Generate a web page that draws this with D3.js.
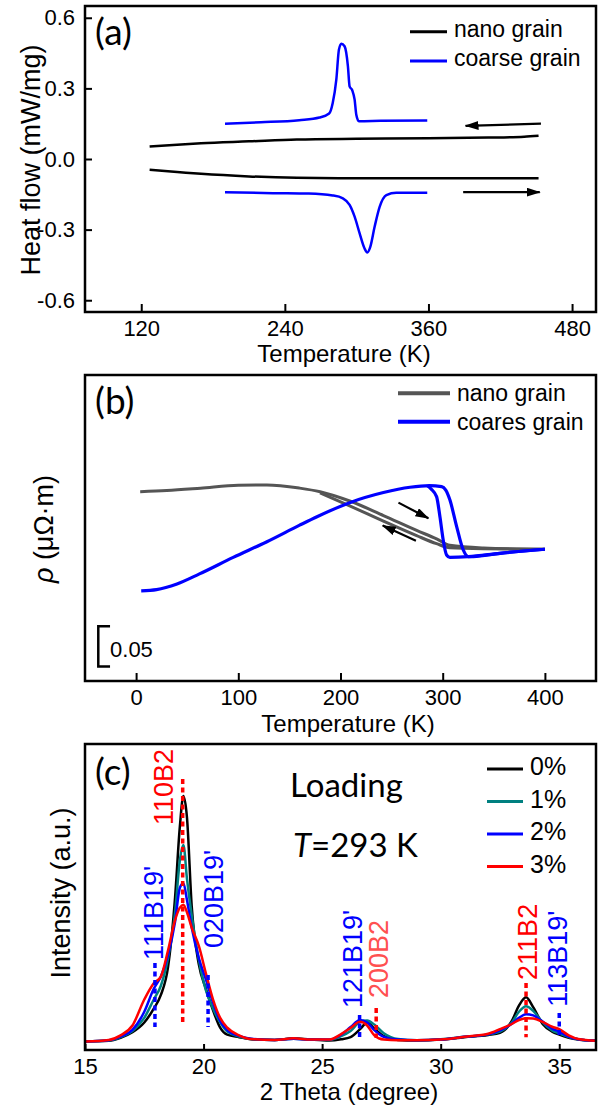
<!DOCTYPE html>
<html>
<head>
<meta charset="utf-8">
<script src="https://cdn.jsdelivr.net/npm/d3@7"></script>
<style>
body { margin: 0; background: #fff; }
</style>
</head>
<body>
<svg id="chart" width="601" height="1107"></svg>
<script>
const width = 601;
const height = 1107;
const svg = d3.select("#chart");

const font = "'Liberation Sans', Arial, sans-serif";
const tagFont = "Lato, 'Open Sans', sans-serif";
const plotLeft = 85, plotRight = 596;

// ---------- (a) DSC data ----------
const dscTicksX = [120, 240, 360, 480];
const dscTicksY = [-0.6, -0.3, 0, 0.3, 0.6];
const nanoCool = [[127,0.053],[150,0.061],[170,0.067],[210,0.075],[250,0.083],[300,0.086],[360,0.088],[410,0.091],[440,0.095],[452,0.099]];
const nanoHeat = [[127,-0.046],[150,-0.055],[170,-0.063],[210,-0.074],[250,-0.080],[300,-0.082],[360,-0.082],[452,-0.082]];
const coarseCool = [[190,0.150],[220,0.156],[252,0.165],[269,0.176],[277,0.193],[280,0.238],[283,0.337],[285.2,0.465],[287.2,0.49],[289.9,0.479],[292.7,0.394],[294.1,0.309],[296.3,0.292],[298.3,0.252],[299.7,0.188],[301.9,0.160],[320,0.162],[359,0.164]];
const coarseHeat = [[190,-0.141],[230,-0.145],[260,-0.147],[280,-0.155],[288.5,-0.167],[294.1,-0.195],[298.3,-0.245],[302.5,-0.316],[306.6,-0.380],[308.9,-0.397],[311.4,-0.373],[315,-0.288],[319.2,-0.203],[324.8,-0.153],[333.1,-0.143],[359,-0.143]];
const dscArrows = [[[454,0.150],[391,0.141]], [[389,-0.141],[453,-0.141]]];

// ---------- (b) resistivity data ----------
const rhoTicksX = [0, 100, 200, 300, 400];
const nanoRhoHeat = [[4,0.635],[30,0.6365],[63,0.6395],[100,0.6432],[128,0.6435],[160,0.6395],[180,0.635],[209,0.6235],[242,0.6055],[274.5,0.587],[294,0.5765],[307,0.5685],[340,0.5652],[400,0.5636]];
const nanoRhoCool = [[180,0.6335],[209,0.6175],[242,0.5985],[274.5,0.5805],[294,0.5705],[307,0.5655],[340,0.5642],[400,0.5636]];
const coarseRhoHeat = [[5,0.512],[20,0.5135],[40,0.5205],[62,0.533],[95,0.5535],[128,0.573],[160,0.5935],[177,0.604],[209,0.6215],[242,0.634],[268,0.6406],[287,0.6426],[299,0.6414],[303,0.637],[307,0.625],[313.6,0.592],[320,0.563],[325,0.5544],[330,0.5545],[356,0.5586],[400,0.5636]];
const coarseRhoCool = [[285,0.6425],[289,0.638],[294,0.629],[297.3,0.604],[300.5,0.575],[303.8,0.5565],[307,0.5536],[325,0.5544],[356,0.5586],[400,0.5636]];
const rhoArrows = [[[256.7,0.6215],[286,0.602]], [[273.8,0.5743],[241.3,0.593]]];
const scaleBar = {t: -37, tEnd: -25.5, from: 0.418, size: 0.05, label: "0.05"};

// ---------- (c) XRD data ----------
const xrdTicksX = [15, 20, 25, 30, 35];
const twoTheta = [15,16,16.5,17,17.5,17.9,18.2,18.5,18.8,19.0,19.15,19.3,19.5,19.8,20.1,20.4,20.7,21.0,21.5,22,23,23.8,24.5,25.3,25.8,26.2,26.6,26.9,27.2,27.6,28.2,29,30,31,32,32.5,33,33.3,33.6,33.9,34.3,34.7,35,35.4,35.8,36.55];
const load0 = [2.8,3.0,4.0,5.8,9.0,13.5,18.0,27,50,73,83,76,47,28,20,13,7.3,5.0,4.2,3.5,3.3,3.8,3.4,3.1,3.5,4.2,6.8,9.0,7.0,4.5,3.3,3.1,3.4,4.2,4.9,5.6,9.5,14.5,17.2,14,8.5,6.0,5.0,4.0,3.4,3.0];
const load1 = [2.8,3.1,4.2,6.2,10.5,16.5,21,30,45,62,67,56,44,29.5,19.5,13.5,9.0,6.0,4.4,3.6,3.3,3.7,3.4,3.3,4.5,6.2,9.2,9.6,8.3,5.5,3.6,3.2,3.5,4.3,5.1,6.0,9.0,12.5,14.3,12.8,9.0,6.4,5.4,4.2,3.5,3.0];
const load2 = [2.8,3.2,4.4,6.6,12.5,20,24,31,42,53,54.5,49,40,30,23,15.5,9.5,6.5,4.6,3.7,3.3,3.7,3.4,3.4,5.0,7.5,9.8,9.0,6.5,4.3,3.4,3.2,3.4,4.3,5.1,6.4,8.6,10.5,11.7,11.3,9.3,7.0,6.0,4.4,3.5,3.0];
const load3 = [2.8,3.3,4.8,8.0,16.5,21.8,24,32.5,42.5,46.5,47.5,45,40,34,25,16.5,10.5,7.3,4.8,3.6,3.3,3.8,3.4,3.4,5.2,7.2,9.2,8.0,4.8,3.4,3.2,3.2,3.4,4.3,5.3,6.8,8.5,9.8,10.4,10.3,9.2,7.6,6.8,4.8,3.6,3.0];
const loadNames = ["0%", "1%", "2%", "3%"];
const loadColors = ["#000000", "#008080", "#0000ff", "#ff0000"];
const refLines = [
  {pos: 17.95, top: 28.4, bottom: 7.5, color: "#0000ff"},
  {pos: 19.12, top: 88.6, bottom: 8.8, color: "#ff0000"},
  {pos: 20.19, top: 24.5, bottom: 7.5, color: "#0000ff"},
  {pos: 26.58, top: 11.4, bottom: 3.9, color: "#0000ff"},
  {pos: 27.28, top: 13.7, bottom: 3.9, color: "#ff0000"},
  {pos: 33.6, top: 21.9, bottom: 4.2, color: "#ff0000"},
  {pos: 35.0, top: 12.1, bottom: 4.9, color: "#0000ff"}
];
const peakLabels = [
  {text: "111B19'", pos: 18.28, start: 29.4, color: "#0000ff"},
  {text: "110B2", pos: 18.72, start: 73.5, color: "#ff0000"},
  {text: "020B19'", pos: 20.8, start: 33.3, color: "#0000ff"},
  {text: "121B19'", pos: 26.7, start: 13.7, color: "#0000ff"},
  {text: "200B2", pos: 27.76, start: 17, color: "#ff5050"},
  {text: "211B2", pos: 34.07, start: 22.9, color: "#ff0000"},
  {text: "113B19'", pos: 35.34, start: 14.1, color: "#0000ff"}
];

// arrow head
svg.append("defs").append("marker")
    .attr("id", "head")
    .attr("viewBox", "0 0 14 9")
    .attr("refX", 13).attr("refY", 4.5)
    .attr("markerUnits", "userSpaceOnUse")
    .attr("markerWidth", 14).attr("markerHeight", 9)
    .attr("orient", "auto")
    .append("path").attr("d", "M0,0L14,4.5L0,9Z").attr("fill", "#000");

function clip(id, top, bottom) {
    svg.select("defs").append("clipPath").attr("id", id)
        .append("rect").attr("x", plotLeft).attr("y", top)
        .attr("width", plotRight - plotLeft).attr("height", bottom - top);
}

function bottomAxis(x, ticks, y0, tickLen) {
    const g = svg.append("g")
        .attr("transform", `translate(0,${y0})`)
        .call(d3.axisBottom(x).tickValues(ticks).tickSize(-tickLen).tickPadding(8).tickFormat(d3.format("d")));
    g.select(".domain").remove();
    g.selectAll("line").attr("stroke", "#000").attr("stroke-width", 2);
    g.selectAll("text").attr("font-family", font).attr("font-size", 22).attr("fill", "#000");
}

function frame(top, bottom) {
    svg.append("rect")
        .attr("x", plotLeft).attr("y", top)
        .attr("width", plotRight - plotLeft).attr("height", bottom - top)
        .attr("fill", "none").attr("stroke", "#000").attr("stroke-width", 2.5);
}

function title(text, x, y, size, rotate) {
    return svg.append("text")
        .attr("transform", rotate ? `translate(${x},${y}) rotate(-90)` : `translate(${x},${y})`)
        .attr("text-anchor", "middle")
        .attr("font-family", font).attr("font-size", size)
        .text(text);
}

function tag(text, x, y) {
    svg.append("text").attr("x", x).attr("y", y)
        .attr("font-family", tagFont).attr("font-size", 37)
        .text(text);
}

function legend(items, x0, x1, y0, step, size, dy, width) {
    items.forEach((d, i) => {
        const y = y0 + i * step;
        svg.append("line").attr("x1", x0).attr("x2", x1).attr("y1", y).attr("y2", y)
            .attr("stroke", d.color).attr("stroke-width", width);
        svg.append("text").attr("x", x1 + 7).attr("y", y + dy)
            .attr("font-family", font).attr("font-size", size)
            .text(d.name);
    });
}

// ===================== (a) =====================
{
    const top = 6, bottom = 312;
    const x = d3.scaleLinear().domain([73, 500]).range([plotLeft, plotRight]);
    const y = d3.scaleLinear().domain([-0.65, 0.65]).range([bottom, top]);
    clip("clipA", top, bottom);

    const line = d3.line().x(d => x(d[0])).y(d => y(d[1])).curve(d3.curveMonotoneX);
    const g = svg.append("g").attr("clip-path", "url(#clipA)");
    [[nanoCool, "#000"], [nanoHeat, "#000"], [coarseCool, "#0000ff"], [coarseHeat, "#0000ff"]].forEach(([data, c]) => {
        g.append("path").datum(data).attr("d", line)
            .attr("fill", "none").attr("stroke", c).attr("stroke-width", 2.5);
    });

    dscArrows.forEach(a => {
        svg.append("line")
            .attr("x1", x(a[0][0])).attr("y1", y(a[0][1]))
            .attr("x2", x(a[1][0])).attr("y2", y(a[1][1]))
            .attr("stroke", "#000").attr("stroke-width", 2.2)
            .attr("marker-end", "url(#head)");
    });

    bottomAxis(x, dscTicksX, bottom, 8);
    const ya = svg.append("g")
        .attr("transform", `translate(${plotLeft},0)`)
        .call(d3.axisLeft(y).tickValues(dscTicksY).tickSize(-7).tickPadding(10).tickFormat(d => d.toFixed(1)));
    ya.select(".domain").remove();
    ya.selectAll("line").attr("stroke", "#000").attr("stroke-width", 2);
    ya.selectAll("text").attr("font-family", font).attr("font-size", 22).attr("fill", "#000");

    frame(top, bottom);
    title("Temperature (K)", 344, 362, 24);
    title("Heat flow (mW/mg)", 40, 160, 27, true);
    tag("(a)", 95, 45);
    legend([{name: "nano grain", color: "#000"}, {name: "coarse grain", color: "#0000ff"}],
        410, 447, 31.7, 29.3, 23, 5, 3);
}

// ===================== (b) =====================
{
    const top = 375, bottom = 681;
    const x = d3.scaleLinear().domain([-50, 450]).range([plotLeft, plotRight]);
    const y = d3.scaleLinear().domain([0.40, 0.78]).range([bottom, top]);
    clip("clipB", top, bottom);

    const line = d3.line().x(d => x(d[0])).y(d => y(d[1])).curve(d3.curveMonotoneX);
    const g = svg.append("g").attr("clip-path", "url(#clipB)");
    [[nanoRhoHeat, "#555555", 3], [nanoRhoCool, "#555555", 3], [coarseRhoHeat, "#0000ff", 3.2], [coarseRhoCool, "#0000ff", 3.2]].forEach(([data, c, w]) => {
        g.append("path").datum(data).attr("d", line)
            .attr("fill", "none").attr("stroke", c).attr("stroke-width", w);
    });

    rhoArrows.forEach(a => {
        svg.append("line")
            .attr("x1", x(a[0][0])).attr("y1", y(a[0][1]))
            .attr("x2", x(a[1][0])).attr("y2", y(a[1][1]))
            .attr("stroke", "#000").attr("stroke-width", 2.2)
            .attr("marker-end", "url(#head)");
    });

    // scale bar
    const sb = d3.path();
    sb.moveTo(x(scaleBar.tEnd), y(scaleBar.from + scaleBar.size));
    sb.lineTo(x(scaleBar.t), y(scaleBar.from + scaleBar.size));
    sb.lineTo(x(scaleBar.t), y(scaleBar.from));
    sb.lineTo(x(scaleBar.tEnd), y(scaleBar.from));
    svg.append("path").attr("d", sb.toString())
        .attr("fill", "none").attr("stroke", "#000").attr("stroke-width", 2.5);
    svg.append("text").attr("x", x(scaleBar.tEnd)).attr("y", y(scaleBar.from) - 10)
        .attr("font-family", font).attr("font-size", 22).text(scaleBar.label);

    bottomAxis(x, rhoTicksX, bottom, 8);
    frame(top, bottom);
    title("Temperature (K)", 348, 732, 24);
    const yt = title("", 53, 529, 27, true);
    yt.append("tspan").attr("font-style", "italic").text("ρ");
    yt.append("tspan").text(" (μΩ·m)");
    tag("(b)", 95, 414);
    legend([{name: "nano grain", color: "#555555"}, {name: "coares grain", color: "#0000ff"}],
        398, 450, 393.3, 28.4, 23, 8, 4);
}

// ===================== (c) =====================
{
    const top = 744, bottom = 1050;
    const x = d3.scaleLinear().domain([15, 36.55]).range([plotLeft, plotRight]);
    const y = d3.scaleLinear().domain([0, 100]).range([bottom, top]);
    clip("clipC", top, bottom);

    const g = svg.append("g").attr("clip-path", "url(#clipC)");
    const line = d3.line().x((d, i) => x(twoTheta[i])).y(d => y(d)).curve(d3.curveMonotoneX);
    [load0, load1, load2, load3].forEach((s, i) => {
        g.append("path").datum(s).attr("d", line)
            .attr("fill", "none").attr("stroke", loadColors[i]).attr("stroke-width", 2.5);
    });

    svg.selectAll(".ref").data(refLines).enter().append("line")
        .attr("x1", d => x(d.pos)).attr("x2", d => x(d.pos))
        .attr("y1", d => y(d.top)).attr("y2", d => y(d.bottom))
        .attr("stroke", d => d.color).attr("stroke-width", 3.5)
        .attr("stroke-dasharray", "5,3.5");

    svg.selectAll(".peak").data(peakLabels).enter().append("text")
        .attr("transform", d => `translate(${x(d.pos)},${y(d.start)}) rotate(-90)`)
        .attr("font-family", font).attr("font-size", 27)
        .attr("fill", d => d.color)
        .text(d => d.text);

    bottomAxis(x, xrdTicksX, bottom, 6);
    frame(top, bottom);
    title("2 Theta (degree)", 349, 1100, 24);
    title("Intensity (a.u.)", 70, 893, 27, true);
    tag("(c)", 95, 785);

    svg.append("text").attr("x", 290).attr("y", 797)
        .attr("font-family", tagFont).attr("font-size", 33).text("Loading");
    const tt = svg.append("text").attr("x", 293).attr("y", 857)
        .attr("font-family", tagFont).attr("font-size", 33);
    tt.append("tspan").attr("font-style", "italic").text("T");
    tt.append("tspan").text("=293 K");

    legend(loadNames.map((n, i) => ({name: n, color: loadColors[i]})),
        487, 523, 769, 32.5, 25, 6, 3);
}
</script>
</body>
</html>
